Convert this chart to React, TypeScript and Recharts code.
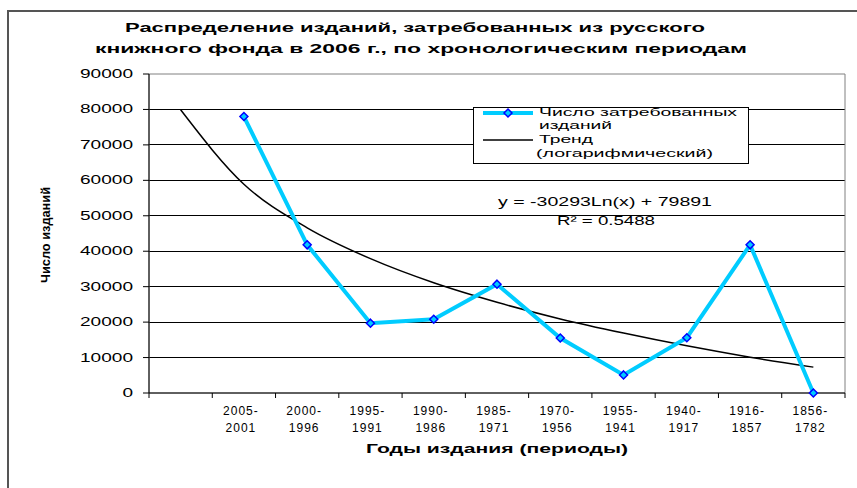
import React from 'react';
import { LineChart, Line, XAxis, YAxis, CartesianGrid, Legend, ReferenceArea } from 'recharts';

// categories: the first one is empty (the trend starts there)
const periods = ['', '2005-2001', '2000-1996', '1995-1991', '1990-1986', '1985-1971', '1970-1956', '1955-1941', '1940-1917', '1916-1857', '1856-1782'];
const issued = [null, 78000, 41800, 19700, 20800, 30700, 15500, 5100, 15600, 41800, 0];
const trend = [79900, 58900, 46600, 37900, 31100, 25600, 20900, 16900, 13300, 10100, 7300];
const yTicks = [0, 10000, 20000, 30000, 40000, 50000, 60000, 70000, 80000, 90000];
const gridValues = [10000, 20000, 30000, 40000, 50000, 60000, 70000, 80000];

const titleLines = ['Распределение изданий, затребованных из русского', 'книжного фонда в 2006 г., по хронологическим периодам'];
const equation = 'y = -30293Ln(x) + 79891';
const rSquared = 'R² = 0.5488';

const data = periods.map((p, i) => ({ period: p, issued: issued[i], trend: trend[i] }));

const FONT = '"Liberation Sans", Arial, sans-serif';

const Diamond = (props: any) => {
  const { cx, cy, index } = props;
  if (cx == null || cy == null || props.value == null) return <g key={index} />;
  const r = 4;
  return (
    <path
      key={index}
      d={`M${cx},${cy - r}L${cx + r},${cy}L${cx},${cy + r}L${cx - r},${cy}Z`}
      fill="#00ccff"
      stroke="#0000ff"
      strokeWidth={1.5}
    />
  );
};

const XTick = (props: any) => {
  const { x, y, payload, index, visibleTicksCount, width } = props;
  const count = visibleTicksCount || periods.length;
  const bw = typeof width === 'number' ? width / count : 63.27;
  const parts = String(payload.value).split('-');
  return (
    <g>
      <line x1={x - bw / 2} x2={x - bw / 2} y1={y} y2={y + 5} stroke="#000" />
      {index === count - 1 && <line x1={x + bw / 2} x2={x + bw / 2} y1={y} y2={y + 5} stroke="#000" />}
      {parts.length === 2 && (
        <text fontFamily={FONT} fontSize={12} fill="#000" textAnchor="middle" letterSpacing={1}>
          <tspan x={x - 3} y={y + 22}>{parts[0] + '-'}</tspan>
          <tspan x={x - 3} y={y + 39}>{parts[1]}</tspan>
        </text>
      )}
    </g>
  );
};

const YTick = (props: any) => {
  const { x, y, payload } = props;
  const s = String(payload.value);
  return (
    <text x={x} y={y + 4} textAnchor="end" fontFamily={FONT} fontSize={12} fill="#000"
      textLength={s.length * 10.6} lengthAdjust="spacingAndGlyphs">
      {s}
    </text>
  );
};

const renderLegend = () => (
  <svg width={276} height={57} style={{ display: 'block', overflow: 'visible' }}>
    <rect x={0.5} y={0.5} width={275} height={56} fill="#fff" stroke="#000" />
    <line x1={10} x2={60} y1={6} y2={6} stroke="#00ccff" strokeWidth={4} />
    <Diamond cx={35} cy={6} value={1} index={0} />
    <line x1={10} x2={60} y1={33} y2={33} stroke="#000" strokeWidth={1.5} />
    <g fontFamily={FONT} fontSize={11} fill="#000">
      <text x={66} y={9} textLength={198} lengthAdjust="spacingAndGlyphs">Число затребованных</text>
      <text x={66} y={22} textLength={73} lengthAdjust="spacingAndGlyphs">изданий</text>
      <text x={66} y={36} textLength={54} lengthAdjust="spacingAndGlyphs">Тренд</text>
      <text x={63} y={50} textLength={177} lengthAdjust="spacingAndGlyphs">(логарифмический)</text>
    </g>
  </svg>
);

const App: React.FC = () => {
  return (
    <div style={{ position: 'absolute', left: 0, top: 0, width: 857, height: 488, overflow: 'hidden', background: '#fff' }}>
      <div style={{ position: 'absolute', left: 7, top: 10, right: -10, bottom: -10, borderLeft: '2px solid #555', borderTop: '2px solid #555' }} />
      <LineChart width={857} height={488} data={data} margin={{ top: 74, right: 12, bottom: 0, left: 0 }}>
        <CartesianGrid vertical={false} stroke="#000" shapeRendering="crispEdges" horizontalValues={gridValues} />
        <ReferenceArea y1={0} y2={90000} fill="none" stroke="#808080" strokeWidth={1} />
        <XAxis
          dataKey="period"
          scale="band"
          interval={0}
          tickLine={false}
          tickSize={0}
          tickMargin={0}
          height={95}
          stroke="#000"
          tick={<XTick />}
          label={(p: any) => (
            <text x={497} y={(p.viewBox?.y ?? 393) + 60} textAnchor="middle" fontFamily={FONT} fontWeight="bold" fontSize={12}
              textLength={262} lengthAdjust="spacingAndGlyphs">
              Годы издания (периоды)
            </text>
          )}
        />
        <YAxis
          domain={[0, 90000]}
          ticks={yTicks}
          width={149}
          stroke="#000"
          tickSize={6}
          tickMargin={10}
          tick={<YTick />}
          label={() => (
            <text x={50} y={235} transform="rotate(-90 50 235)" textAnchor="middle" fontFamily={FONT} fontWeight="bold" fontSize={12}
              textLength={96} lengthAdjust="spacingAndGlyphs">
              Число изданий
            </text>
          )}
        />
        <Legend
          layout="vertical"
          align="center"
          verticalAlign="middle"
          content={renderLegend}
          wrapperStyle={{ left: 473, top: 107, width: 276, height: 57 }}
        />
        <Line dataKey="trend" type="monotone" stroke="#000" strokeWidth={1.5} dot={false} isAnimationActive={false} />
        <Line dataKey="issued" type="linear" stroke="#00ccff" strokeWidth={4} dot={<Diamond />} isAnimationActive={false} />
      </LineChart>
      <svg width={857} height={488} style={{ position: 'absolute', left: 0, top: 0, pointerEvents: 'none' }}>
        <g fontFamily={FONT} fontWeight="bold" fontSize={13} fill="#000" textAnchor="middle">
          <text x={415} y={32} textLength={580} lengthAdjust="spacingAndGlyphs">{titleLines[0]}</text>
          <text x={421} y={53} textLength={652} lengthAdjust="spacingAndGlyphs">{titleLines[1]}</text>
        </g>
        <g fontFamily={FONT} fontSize={12} fill="#000" textAnchor="middle">
          <text x={605} y={206} textLength={214} lengthAdjust="spacingAndGlyphs">{equation}</text>
          <text x={606} y={225} textLength={98} lengthAdjust="spacingAndGlyphs">{rSquared}</text>
        </g>
      </svg>
    </div>
  );
};

export default App;
